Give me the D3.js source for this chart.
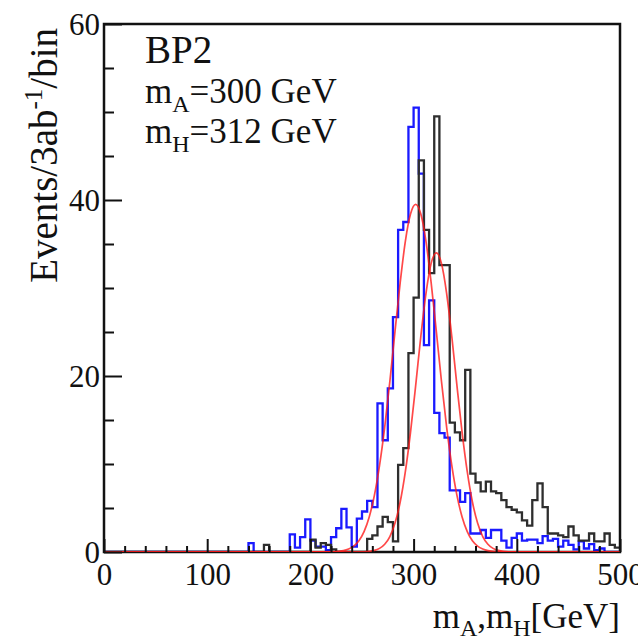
<!DOCTYPE html>
<html>
<head>
<meta charset="utf-8">
<script src="https://cdn.jsdelivr.net/npm/d3@7"></script>
<style>
  html, body { margin: 0; padding: 0; background: #fff; }
  svg { display: block; }
  text { font-family: "Liberation Serif", "DejaVu Serif", serif; fill: #111; }
</style>
</head>
<body>
<svg id="chart" width="638" height="640"></svg>
<script>
// ---------------- DATA ----------------
const binWidth = 5;            // GeV
const xDomain = [0, 500];
const yDomain = [0, 60];
const xMajorTicks = [0, 100, 200, 300, 400, 500];
const yMajorTicks = [0, 20, 40, 60];

// Blue histogram: m_A, 100 bins of 5 GeV from 0 to 500
const countsA = [
  0,0,0,0,0,0,0,0,0,0,
  0,0,0,0,0,0,0,0,0,0,
  0,0,0,0,0,0,0,0,1.0,0,
  0,0,0,0,0,0,2.0,0.5,1.7,3.7,
  1.3,0.6,0.6,0.2,1.7,2.7,4.9,2.8,0.6,3.8,
  4.6,5.8,5.1,16.9,12.7,18.6,26.7,36.6,37.5,48.3,
  50.5,43.0,23.5,28.6,15.8,13.5,13.0,7.0,7.0,5.7,
  6.7,2.1,2.1,2.5,1.6,2.5,2.5,1.3,0.5,1.6,
  2.1,1.3,1.4,1.4,1.0,1.8,1.3,1.5,0.6,1.3,
  0.8,0.3,1.2,0.4,0.9,0.2,0.4,0,0,0
];
// Black histogram: m_H
const countsH = [
  0,0,0,0,0,0,0,0,0,0,
  0,0,0,0,0,0,0,0,0,0,
  0,0,0,0,0,0,0,0,0,0,
  0,0.8,0,0,0,0,0,0,0,0,
  1.4,0.5,1.0,0.8,0.3,0,0,0,0,0,
  0,1.5,1.9,2.9,4.0,3.4,1.2,9.9,11.8,22.6,
  28.9,44.5,36.6,31.7,49.5,32.6,32.6,14.7,13.6,12.7,
  20.7,8.9,7.9,6.9,8.0,6.9,6.7,5.9,5.1,4.8,
  4.5,3.6,3.0,5.9,7.8,5.1,2.1,2.1,1.9,1.7,
  2.9,1.9,1.3,1.3,2.1,1.2,1.2,2.1,0.8,0.5
];
// Red fit curves
const fitA_x = [0,222,232,237,242,247,252,257,262,267,272,277,282,287,292,297,302,307,312,317,322,327,332,337,342,347,352,357,362,367,372,382,500];
const fitA_y = [0,0.03,0.15,0.33,0.67,1.28,2.32,3.98,6.44,9.85,14.2,19.4,25.1,30.6,35.3,38.4,39.5,38.4,35.3,30.6,25.1,19.4,14.2,9.85,6.44,3.98,2.32,1.28,0.67,0.33,0.15,0.03,0];
const fitH_x = [0,252,262,267,272,277,282,287,292,297,302,307,312,317,322,327,332,337,342,347,352,357,362,367,372,377,382,392,500];
const fitH_y = [0,0.03,0.18,0.41,0.88,1.76,3.29,5.68,9.13,13.6,18.9,24.5,29.4,32.8,34,32.8,29.4,24.5,18.9,13.6,9.13,5.68,3.29,1.76,0.88,0.41,0.18,0.03,0];

// ---------------- LAYOUT ----------------
const plot = { left: 104, top: 24, right: 620, bottom: 552 };
const svg = d3.select("#chart");

const x = d3.scaleLinear().domain(xDomain).range([plot.left, plot.right]);
const y = d3.scaleLinear().domain(yDomain).range([plot.bottom, plot.top]);

function histPoints(counts) {
  const pts = counts.map((c, i) => [i * binWidth, c]);
  pts.push([xDomain[1], counts[counts.length - 1]]);
  return pts;
}
const stepLine = d3.line().x(d => x(d[0])).y(d => y(d[1])).curve(d3.curveStepAfter);
const smoothLine = d3.line().x(d => x(d[0])).y(d => y(d[1])).curve(d3.curveMonotoneX);

svg.append("clipPath").attr("id", "clip")
  .append("rect").attr("x", plot.left).attr("y", plot.top)
  .attr("width", plot.right - plot.left).attr("height", plot.bottom - plot.top);

const g = svg.append("g").attr("clip-path", "url(#clip)");

g.append("path").attr("d", stepLine(histPoints(countsA)))
  .attr("fill", "none").attr("stroke", "#1a1aff").attr("stroke-width", 2.3);
g.append("path").attr("d", stepLine(histPoints(countsH)))
  .attr("fill", "none").attr("stroke", "#2e2e2e").attr("stroke-width", 2.3);

// frame
svg.append("rect").attr("x", plot.left).attr("y", plot.top)
  .attr("width", plot.right - plot.left).attr("height", plot.bottom - plot.top)
  .attr("fill", "none").attr("stroke", "#111").attr("stroke-width", 2.5);

const g2 = svg.append("g").attr("clip-path", "url(#clip)");
g2.append("path").attr("d", smoothLine(fitA_x.map((v, i) => [v, fitA_y[i]])))
  .attr("fill", "none").attr("stroke", "#ff1a1a").attr("stroke-opacity", 0.8).attr("stroke-width", 1.7);
g2.append("path").attr("d", smoothLine(fitH_x.map((v, i) => [v, fitH_y[i]])))
  .attr("fill", "none").attr("stroke", "#ff1a1a").attr("stroke-opacity", 0.8).attr("stroke-width", 1.7);

// ---------------- AXES ----------------
const fontSize = 31;
const xMinor = d3.range(0, 501, 20).filter(v => v % 100 !== 0);
const yMinor = d3.range(0, 61, 5).filter(v => v % 20 !== 0);

const gx = svg.append("g").attr("transform", `translate(0,${plot.bottom})`)
  .call(d3.axisBottom(x).tickValues(xMajorTicks).tickSizeInner(-13).tickSizeOuter(0).tickPadding(11).tickFormat(d3.format("d")));
const gxm = svg.append("g").attr("transform", `translate(0,${plot.bottom})`)
  .call(d3.axisBottom(x).tickValues(xMinor).tickSizeInner(-6).tickSizeOuter(0).tickFormat(""));
const gy = svg.append("g").attr("transform", `translate(${plot.left},0)`)
  .call(d3.axisLeft(y).tickValues(yMajorTicks).tickSizeInner(-18).tickSizeOuter(0).tickPadding(4).tickFormat(d3.format("d")));
const gym = svg.append("g").attr("transform", `translate(${plot.left},0)`)
  .call(d3.axisLeft(y).tickValues(yMinor).tickSizeInner(-10).tickSizeOuter(0).tickFormat(""));

[gx, gxm, gy, gym].forEach(a => {
  a.select(".domain").remove();
  a.selectAll(".tick line").attr("stroke", "#111").attr("stroke-width", 2);
  a.selectAll(".tick text").attr("font-family", "Liberation Serif").attr("font-size", fontSize).attr("fill", "#111");
});
gy.selectAll(".tick text").attr("dy", "0.33em");

// ---------------- TEXT ----------------
svg.append("text").attr("x", 145).attr("y", 63).attr("font-size", 39).text("BP2");

function massLine(yy, sub, val) {
  const t = svg.append("text").attr("x", 145).attr("y", yy).attr("font-size", 35);
  t.append("tspan").text("m");
  t.append("tspan").attr("font-size", 24).attr("dy", 9).text(sub);
  t.append("tspan").attr("dy", -9).text("=" + val + " GeV");
}
massLine(103, "A", "300");
massLine(143, "H", "312");

// x title
const xt = svg.append("text").attr("x", 620).attr("y", 628).attr("text-anchor", "end").attr("font-size", 35);
xt.append("tspan").text("m");
xt.append("tspan").attr("font-size", 24).attr("dy", 8).text("A");
xt.append("tspan").attr("dy", -8).text(",m");
xt.append("tspan").attr("font-size", 24).attr("dy", 8).text("H");
xt.append("tspan").attr("dy", -8).text("[GeV]");

// y title
const yt = svg.append("text").attr("transform", "translate(57,28) rotate(-90)")
  .attr("text-anchor", "end").attr("font-size", 39);
yt.append("tspan").text("Events/3ab");
yt.append("tspan").attr("font-size", 25).attr("dy", -15).text("-1");
yt.append("tspan").attr("dy", 15).text("/bin");
</script>
</body>
</html>
